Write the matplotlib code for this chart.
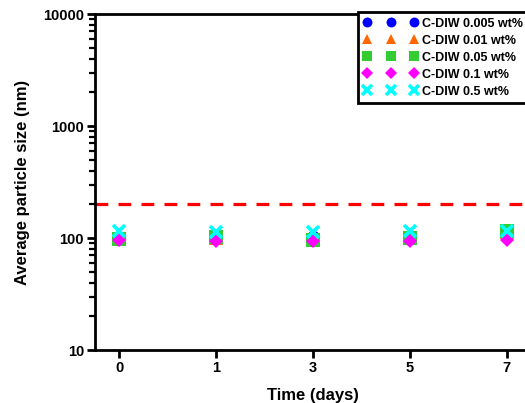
import matplotlib
matplotlib.use("Agg")
import matplotlib.pyplot as plt
from matplotlib.ticker import LogLocator, NullFormatter, FixedLocator, FixedFormatter, FuncFormatter

plt.rcParams['font.family'] = ['Liberation Sans', 'DejaVu Sans']
plt.rcParams['font.weight'] = 'bold'

days = ["0", "1", "3", "5", "7"]
labels = ["C-DIW 0.005 wt%", "C-DIW 0.01 wt%", "C-DIW 0.05 wt%", "C-DIW 0.1 wt%", "C-DIW 0.5 wt%"]
size_0005 = [97, 99, 103, 103, 110]
size_001 = [98, 100, 100, 101, 112]
size_005 = [97, 102, 96, 100, 115]
size_01 = [95, 94, 94, 94, 96]
size_05 = [115, 114, 114, 116, 116]
threshold = 200

series = [size_0005, size_001, size_005, size_01, size_05]
markers = ["o", "^", "s", "D", "x"]
colors = ["#0000FF", "#FF6600", "#33CC33", "#FF00FF", "#00FFFF"]
msizes = [9.5, 9.5, 10.5, 7.5, 9]

fig = plt.figure(figsize=(5.25, 4.03), dpi=100)
ax = fig.add_axes([95 / 525, 1 - 350 / 403, 436 / 525, 336 / 403])

xpos = list(range(len(days)))
for vals, m, c, ms, lab in zip(series, markers, colors, msizes, labels):
    kw = dict(markeredgewidth=2.6) if m == "x" else dict(markeredgewidth=0)
    ax.plot(xpos, vals, linestyle="none", marker=m, color=c, markersize=ms,
            label=lab, **kw)

ax.axhline(threshold, color="#FF0000", lw=2.3, linestyle=(0, (4, 3.2)))

ax.set_yscale("log")
ax.set_ylim(10, 10000)
ax.set_xlim(-0.25, 4.25)
ax.xaxis.set_major_locator(FixedLocator(xpos))
ax.xaxis.set_major_formatter(FixedFormatter(days))
ax.yaxis.set_major_locator(LogLocator(base=10, numticks=10))
ax.yaxis.set_minor_locator(LogLocator(base=10, subs=range(2, 10), numticks=20))
ax.yaxis.set_minor_formatter(NullFormatter())
ax.yaxis.set_major_formatter(FuncFormatter(lambda v, p: f"{int(round(v))}"))

for s in ["left", "bottom", "top", "right"]:
    ax.spines[s].set_linewidth(2)
ax.tick_params(axis="both", which="major", direction="out", length=6, width=2,
               labelsize=10.5, pad=2)
ax.tick_params(axis="y", which="minor", direction="out", length=4, width=1.6)

ax.set_xlabel("Time (days)", fontsize=12, fontweight="bold", labelpad=9)
ax.set_ylabel("Average particle size (nm)", fontsize=12, fontweight="bold", labelpad=9)

leg = ax.legend(loc="upper left", bbox_to_anchor=(358 / 525, 1 - 12 / 403),
                bbox_transform=fig.transFigure, numpoints=3, markerscale=0.75,
                fontsize=9, frameon=True, fancybox=False, framealpha=1,
                borderaxespad=0, handlelength=4.36, handletextpad=0.35,
                labelspacing=0.4, borderpad=0.45)
leg.get_frame().set_edgecolor("black")
leg.get_frame().set_linewidth(2)
for t in leg.get_texts():
    t.set_fontweight("bold")

fig.savefig("out.png", dpi=100)
